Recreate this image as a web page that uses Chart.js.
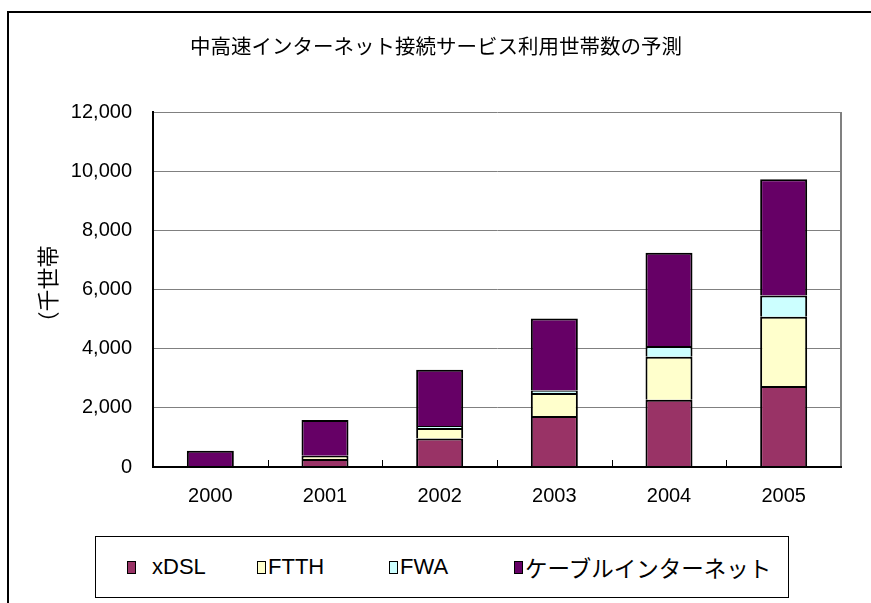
<!DOCTYPE html>
<html>
<head>
<meta charset="utf-8">
<script src="https://cdn.jsdelivr.net/npm/chart.js@4.4.0/dist/chart.umd.min.js"></script>
<style>
  html, body { margin: 0; padding: 0; background: #fff; overflow: hidden; }
  #wrap { position: relative; width: 871px; height: 603px; }
  #frame { position: absolute; left: 7px; top: 11px; width: 900px; height: 700px;
           border: 2px solid #000; box-sizing: border-box; }
  #chart { position: absolute; left: 0; top: 0; }
  #title { position: absolute; left: 0; width: 872px; top: 31px; text-align: center;
           font: 20.5px 'Noto Sans CJK JP', sans-serif; color: #000; line-height: 28px; }
  #legend { position: absolute; left: 95px; top: 536px; width: 694px; height: 62px;
            border: 1px solid #000; box-sizing: border-box; background: #fff; }
  .item { position: absolute; top: 0; height: 60px; display: flex; align-items: center; }
  .sw { width: 9px; height: 13px; border: 1.5px solid #000; box-sizing: border-box; }
  .lt { margin-left: 2px; font: 22px 'Liberation Sans', 'Noto Sans CJK JP', sans-serif; color: #000; white-space: nowrap; }
  .item:first-child .lt { margin-left: 16px; }
  .cjk { font-family: 'Noto Sans CJK JP', sans-serif; font-size: 22.5px; }
</style>
</head>
<body>
<div id="wrap">
  <div id="frame"></div>
  <canvas id="chart" width="871" height="603"></canvas>
  <div id="title"></div>
  <div id="legend"></div>
</div>
<script>
  // values in thousand households
  var years = ['2000', '2001', '2002', '2003', '2004', '2005'];
  var xdsl  = [0, 270, 960, 1720, 2270, 2740];
  var ftth  = [0, 110, 360, 780, 1460, 2340];
  var fwa   = [0, 0, 70, 90, 360, 720];
  var cable = [550, 1210, 1900, 2430, 3150, 3930];
  var yTicks = [0, 2000, 4000, 6000, 8000, 10000, 12000];

  var titleText = '中高速インターネット接続サービス利用世帯数の予測';
  var yTitle = '（千世帯';

  // left edge of each legend entry inside the legend box
  var legendLeft = [31, 161, 293, 418];

  var latin = "'Liberation Sans', Arial, sans-serif";
  var cjk = "'Noto Sans CJK JP', sans-serif";

  function series(label, data, color) {
    return {
      label: label,
      data: data,
      backgroundColor: color,
      borderColor: '#000',
      borderWidth: 2,
      barPercentage: 0.41,
      categoryPercentage: 1
    };
  }

  // gray right edge of the plot and small inward ticks between categories
  var plotFrame = {
    id: 'plotFrame',
    beforeDatasetsDraw: function (chart) {
      var a = chart.chartArea, ctx = chart.ctx;
      ctx.save();
      ctx.strokeStyle = '#808080';
      ctx.lineWidth = 2;
      ctx.beginPath();
      ctx.moveTo(a.right, a.top);
      ctx.lineTo(a.right, a.bottom);
      ctx.stroke();
      ctx.restore();
    },
    afterDatasetsDraw: function (chart) {
      var a = chart.chartArea, ctx = chart.ctx, xs = chart.scales.x;
      ctx.save();
      ctx.strokeStyle = '#000';
      ctx.lineWidth = 1;
      for (var i = 1; i < years.length; i++) {
        var px = Math.round(xs.getPixelForValue(i - 0.5)) + 0.5;
        ctx.beginPath();
        ctx.moveTo(px, a.bottom);
        ctx.lineTo(px, a.bottom - 7);
        ctx.stroke();
      }
      ctx.restore();
    }
  };

  document.getElementById('title').textContent = titleText;

  var ctx = document.getElementById('chart').getContext('2d');
  var chart = new Chart(ctx, {
    type: 'bar',
    data: {
      labels: years,
      datasets: [
        series('xDSL', xdsl, '#993366'),
        series('FTTH', ftth, '#FFFFCC'),
        series('FWA', fwa, '#CCFFFF'),
        series('ケーブルインターネット', cable, '#660066')
      ]
    },
    options: {
      responsive: false,
      animation: false,
      layout: { padding: { left: 8, top: 112, right: 30, bottom: 76 } },
      plugins: {
        legend: { display: false },
        tooltip: { enabled: false }
      },
      scales: {
        x: {
          stacked: true,
          grid: { display: false },
          border: { display: true, color: '#000', width: 2, z: 1 },
          ticks: { color: '#000', font: { family: latin, size: 20 }, padding: 9 },
          afterFit: function (s) { s.height = 60; }
        },
        y: {
          stacked: true,
          min: 0,
          max: 12000,
          afterBuildTicks: function (s) {
            s.ticks = yTicks.map(function (v) { return { value: v }; });
          },
          grid: { color: '#808080', lineWidth: 1, drawTicks: false },
          border: { display: true, color: '#000', width: 2, z: 1 },
          ticks: {
            color: '#000',
            font: { family: latin, size: 20 },
            padding: 21,
            callback: function (v) { return v.toLocaleString('en-US'); }
          },
          title: {
            display: true,
            text: yTitle,
            color: '#000',
            font: { family: cjk, size: 22, weight: 'normal' },
            padding: { top: 26, bottom: 0 }
          },
          afterFit: function (s) { s.width = 145; }
        }
      }
    },
    plugins: [plotFrame]
  });

  // legend in a framed box, built from the chart's datasets
  var legend = document.getElementById('legend');
  chart.data.datasets.forEach(function (ds, i) {
    var item = document.createElement('div');
    item.className = 'item';
    item.style.left = legendLeft[i] + 'px';
    var sw = document.createElement('span');
    sw.className = 'sw';
    sw.style.background = ds.backgroundColor;
    var t = document.createElement('span');
    t.className = 'lt' + (/[^\x00-\x7f]/.test(ds.label) ? ' cjk' : '');
    t.textContent = ds.label;
    item.appendChild(sw);
    item.appendChild(t);
    legend.appendChild(item);
  });
</script>
</body>
</html>
